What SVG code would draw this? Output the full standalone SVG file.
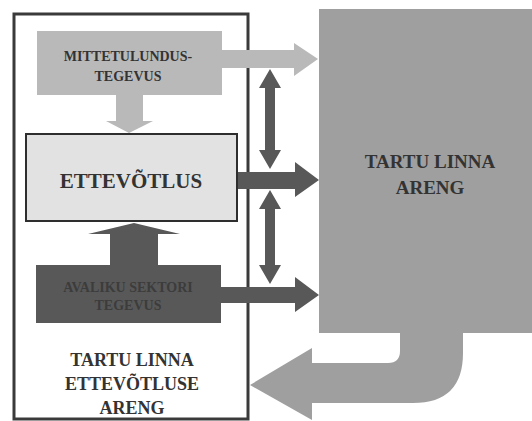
<svg xmlns="http://www.w3.org/2000/svg" width="532" height="421" viewBox="0 0 532 421">
<style>
text{font-family:"Liberation Serif","Times New Roman",serif;font-weight:bold;text-anchor:middle;fill:#333}
.light{fill:#b9b9b9}
.dark{fill:#585858}
.mid{fill:#9f9f9f}
</style>
<rect width="532" height="421" fill="#fff"/>
<g id="outer">
<rect x="14" y="14" width="234" height="405" fill="#fff" stroke="#3a3a3a" stroke-width="3"/>
<text x="132" y="366" font-size="18">TARTU LINNA</text>
<text x="132" y="390" font-size="18">ETTEVÕTLUSE</text>
<text x="132" y="414" font-size="18">ARENG</text>
</g>
<g id="linn">
<rect x="319" y="9" width="213" height="324" class="mid"/>
<text x="430" y="168" font-size="19">TARTU LINNA</text>
<text x="430" y="194" font-size="19">ARENG</text>
</g>
<g id="connectors">
<polygon class="light" points="221,50 294,50 294,43 318,59 294,76 294,68 221,68"/>
<polygon class="light" points="116,95 143,95 143,121 153,121 129,133 106,121 116,121"/>
<polygon class="dark" points="110,265 110,234 88,234 134,223 180,234 158,234 158,265"/>
<polygon class="dark" points="237,172 295,172 295,162 319,180 295,197 295,189 237,189"/>
<polygon class="dark" points="220,287 295,287 295,277 319,295 295,312 295,303 220,303"/>
<polygon class="dark" points="270,69 281,88 275,88 275,150 281,150 270,169 259,150 265,150 265,88 259,88"/>
<polygon class="dark" points="270,190 281,209 275,209 275,265 281,265 270,284 259,265 265,265 265,209 259,209"/>
<path class="mid" d="M400 332 L463 332 L463 353 Q463 403 413 403 L312 403 L312 420 L250 385 L312 348 L312 363 L388 363 Q400 363 400 351 Z"/>
</g>
<g id="mittetulundus">
<rect x="37" y="31" width="185" height="64" class="light"/>
<text x="128" y="61" font-size="14">MITTETULUNDUS-</text>
<text x="128" y="81" font-size="14">TEGEVUS</text>
</g>
<g id="ettevotlus">
<rect x="26" y="134" width="211" height="87" fill="#e2e2e2" stroke="#2e2e2e" stroke-width="2"/>
<text x="131" y="188" font-size="21">ETTEVÕTLUS</text>
</g>
<g id="avalik">
<rect x="36" y="265" width="185" height="58" class="dark"/>
<text x="128" y="292" font-size="14" fill="#3c3c3c" style="fill:#3c3c3c">AVALIKU SEKTORI</text>
<text x="128" y="310" font-size="14" style="fill:#3c3c3c">TEGEVUS</text>
</g>
</svg>
